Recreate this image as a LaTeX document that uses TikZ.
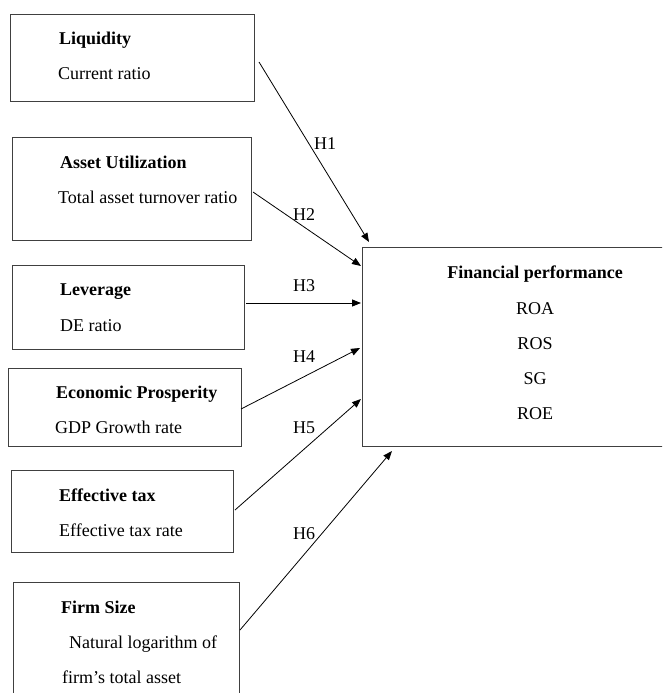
\documentclass[tikz,border=0pt]{standalone}
\usepackage{fontspec}
\setmainfont{Liberation Serif}
\usetikzlibrary{arrows.meta}
\begin{document}
\begin{tikzpicture}[x=1pt,y=-1pt,
  box/.style={draw=black!75, line width=1.3pt, anchor=north west, inner sep=0pt},
  txt/.style={anchor=base west, inner sep=0pt, font=\fontsize{18}{21}\selectfont},
  ctxt/.style={anchor=base, inner sep=0pt, font=\fontsize{18}{21}\selectfont},
  hlab/.style={anchor=base west, inner sep=0pt, font=\fontsize{18}{21}\selectfont},
  arr/.style={draw=black, line width=0.8pt, -{Triangle[length=9pt,width=7pt]}}]
\useasboundingbox (0,0) rectangle (662,693);
\clip (0,0) rectangle (662,693);
% left boxes
\node[box, minimum width=244pt, minimum height=87pt] (b1) at (10,14) {};
\node[box, minimum width=239pt, minimum height=103pt] (b2) at (12,137) {};
\node[box, minimum width=232pt, minimum height=84pt] (b3) at (12,265) {};
\node[box, minimum width=233pt, minimum height=78pt] (b4) at (8,368) {};
\node[box, minimum width=222pt, minimum height=82pt] (b5) at (11,470) {};
\node[box, minimum width=226pt, minimum height=130pt] (b6) at (13,582) {};
% right box
\node[box, minimum width=320pt, minimum height=199pt] (fp) at (362,247) {};
% texts
\node[txt] (t1a) at (59,45) {\bfseries Liquidity};
\node[txt] (t1b) at (58,80) {Current ratio};
\node[txt] (t2a) at (60,168) {\bfseries Asset Utilization};
\node[txt] (t2b) at (58,203) {Total asset turnover ratio};
\node[txt] (t3a) at (60,295) {\bfseries Leverage};
\node[txt] (t3b) at (60,331) {DE ratio};
\node[txt] (t4a) at (56,398) {\bfseries Economic Prosperity};
\node[txt] (t4b) at (55,433) {GDP Growth rate};
\node[txt] (t5a) at (59,501) {\bfseries Effective tax};
\node[txt] (t5b) at (59,536) {Effective tax rate};
\node[txt] (t6a) at (61,613) {\bfseries Firm Size};
\node[txt] (t6b) at (69,648) {Natural logarithm of};
\node[txt] (t6c) at (62,683) {firm’s total asset};
\node[ctxt] (f0) at (535,278) {\bfseries Financial performance};
\node[ctxt] (f1) at (535,314) {ROA};
\node[ctxt] (f2) at (535,349) {ROS};
\node[ctxt] (f3) at (535,384) {SG};
\node[ctxt] (f4) at (535,419) {ROE};
% arrow end points
\coordinate (s1) at (259,62);
\coordinate (e1) at (369,242);
\coordinate (s2) at (253,192);
\coordinate (e2) at (361,266);
\coordinate (s3) at (246,303);
\coordinate (e3) at (361,303);
\coordinate (s4) at (241,409);
\coordinate (e4) at (360,348);
\coordinate (s5) at (235,510);
\coordinate (e5) at (361,399);
\coordinate (s6) at (240,630);
\coordinate (e6) at (392,451);
\draw[arr] (s1) -- (e1);
\draw[arr] (s2) -- (e2);
\draw[arr] (s3) -- (e3);
\draw[arr] (s4) -- (e4);
\draw[arr] (s5) -- (e5);
\draw[arr] (s6) -- (e6);
% labels
\node[hlab] (h1) at (314,149) {H1};
\node[hlab] (h2) at (293,220) {H2};
\node[hlab] (h3) at (293,291) {H3};
\node[hlab] (h4) at (293,362) {H4};
\node[hlab] (h5) at (293,433) {H5};
\node[hlab] (h6) at (293,539) {H6};
\end{tikzpicture}
\end{document}
